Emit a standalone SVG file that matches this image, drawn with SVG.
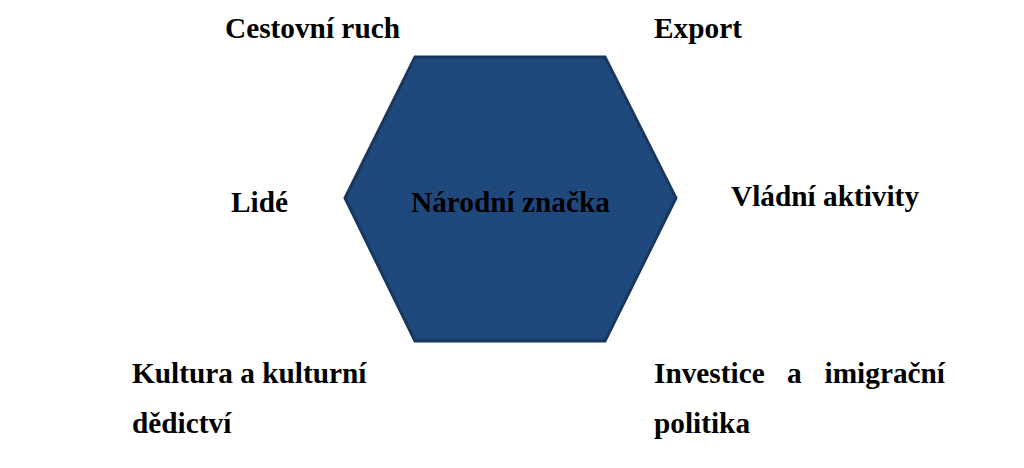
<svg xmlns="http://www.w3.org/2000/svg" width="1024" height="468" viewBox="0 0 1024 468">
<style>
.t{font-family:"Liberation Serif","Times New Roman",serif;font-weight:bold;font-size:29.3px;fill:#000}
.hex{fill:#1F497D;stroke:#17375E;stroke-width:3;stroke-linejoin:miter}
</style>
<rect width="1024" height="468" fill="#fff"/>
<g id="connectors"></g>
<g id="center">
<polygon class="hex" points="415,57 605,57 676,198 605,341 415,341 345,198"/>
<text class="t" x="411" y="212">Národní značka</text>
</g>
<g id="cestovni-ruch"><text class="t" x="225" y="38">Cestovní ruch</text></g>
<g id="export"><text class="t" x="654" y="38">Export</text></g>
<g id="lide"><text class="t" x="231" y="212">Lidé</text></g>
<g id="vladni-aktivity"><text class="t" x="731" y="206">Vládní aktivity</text></g>
<g id="kultura">
<text class="t" x="132" y="383">Kultura a kulturní</text>
<text class="t" x="132" y="433">dědictví</text>
</g>
<g id="investice">
<text class="t" x="654" y="383">Investice</text>
<text class="t" x="787" y="383">a</text>
<text class="t" x="945" y="383" text-anchor="end">imigrační</text>
<text class="t" x="654" y="433">politika</text>
</g>
</svg>
